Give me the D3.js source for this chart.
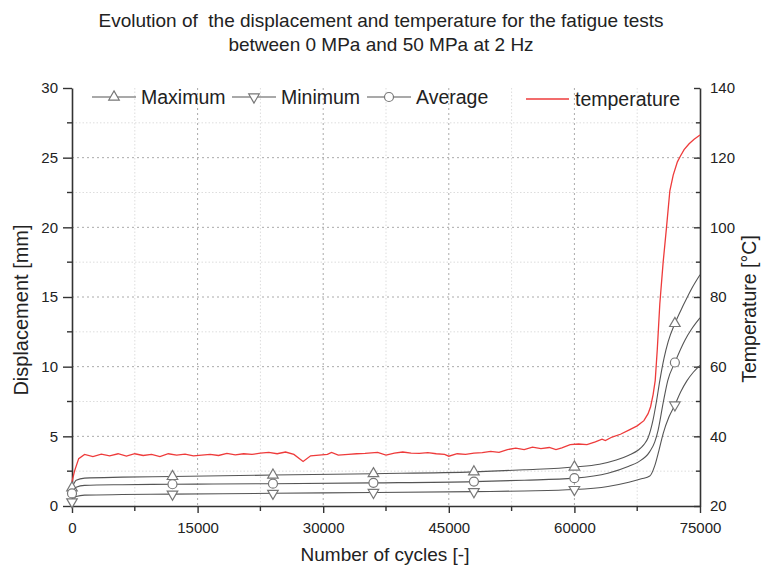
<!DOCTYPE html>
<html>
<head>
<meta charset="utf-8">
<script src="https://cdn.jsdelivr.net/npm/d3@7"></script>
<style>
  body { margin: 0; background: #fff; }
  text { font-family: "Liberation Sans", Arial, sans-serif; fill: #222; white-space: pre; }
</style>
</head>
<body>
<div id="chart"></div>
<script>
// displacement curves [cycles, mm]
let maxCycles = [0, 500, 1500, 6000, 12000, 24000, 36000, 48000, 54000, 60000, 63000, 65000, 66500, 67600, 68300, 68800, 69400, 69800, 70200, 70700, 71200, 72000, 73000, 74000, 75000];
let maxDisp = [1.3, 1.85, 2.0, 2.07, 2.12, 2.22, 2.32, 2.45, 2.6, 2.8, 3.0, 3.3, 3.65, 4.0, 4.4, 4.9, 6.2, 7.5, 9.0, 10.6, 11.8, 13.1, 14.4, 15.6, 16.6];

let avgCycles = [0, 500, 1500, 6000, 12000, 24000, 36000, 48000, 54000, 60000, 64000, 66500, 67600, 69000, 69600, 70000, 70600, 71150, 72000, 73200, 74000, 75000];
let avgDisp = [0.9, 1.35, 1.48, 1.53, 1.56, 1.6, 1.66, 1.75, 1.85, 2.0, 2.35, 2.85, 3.15, 3.9, 4.6, 5.45, 7.4, 9.0, 10.3, 11.9, 12.7, 13.5];

let minCycles = [0, 500, 1500, 6000, 12000, 24000, 36000, 48000, 54000, 60000, 64000, 66500, 68000, 69000, 69600, 70100, 70600, 71300, 72000, 72700, 73450, 74200, 75000];
let minDisp = [0.3, 0.68, 0.78, 0.82, 0.85, 0.91, 0.97, 1.03, 1.08, 1.18, 1.4, 1.7, 1.95, 2.15, 2.9, 4.0, 5.2, 6.4, 7.25, 8.2, 9.0, 9.6, 10.1];

// temperature [cycles, °C]
let tempCycles = [0, 300, 800, 1500, 2500, 3500, 4500, 5500, 6500, 7500, 8500, 9500, 10500, 11500, 12500, 13500, 14500, 15500, 16500, 17500, 18500, 19500, 20500, 21500, 22500, 23500, 24500, 25500, 26500, 27600, 28500, 29500, 30500, 31000, 31800, 33000, 34000, 35000, 36500, 37500, 38500, 39500, 40500, 41500, 42500, 43500, 44500, 45000, 46000, 47000, 48000, 49000, 50000, 51000, 52000, 53000, 54000, 55000, 56000, 57000, 57800, 58500, 59500, 60500, 61500, 62500, 63300, 63700, 64500, 65500, 66500, 67500, 68300, 68800, 69100, 69400, 69650, 69900, 70200, 70600, 71000, 71400, 71800, 72300, 72600, 73100, 73700, 74300, 75000];
let temp = [27, 30, 33.6, 34.8, 34.2, 34.9, 34.4, 35.0, 34.3, 35.0, 34.5, 34.8, 34.2, 35.0, 34.6, 34.9, 34.4, 34.6, 34.8, 34.5, 35.1, 34.7, 35.0, 34.8, 35.2, 35.4, 35.0, 35.5, 34.8, 32.8, 34.4, 34.6, 34.8, 35.4, 34.6, 34.8, 35.0, 35.1, 35.4, 34.6, 35.2, 35.5, 35.2, 35.1, 35.3, 35.0, 34.8, 34.3, 35.0, 34.8, 35.2, 35.3, 35.7, 35.4, 36.2, 36.6, 36.2, 36.9, 36.5, 36.8, 36.2, 36.7, 37.6, 37.8, 37.6, 38.4, 39.2, 38.8, 39.8, 40.6, 41.8, 43.0, 44.5, 46.5, 48.5, 52, 56, 65, 78, 90, 100, 110.5, 115, 118.8, 120.2, 122.3, 124, 125.3, 126.5];

let markerCycles = [0, 12000, 24000, 36000, 48000, 60000, 72000];

let xTicks = [0, 15000, 30000, 45000, 60000, 75000];
let yTicks = [0, 5, 10, 15, 20, 25, 30];
let tTicks = [20, 40, 60, 80, 100, 120, 140];

let width = 763, height = 568;
let m = { left: 72, right: 63, top: 88, bottom: 62 };
let pw = width - m.left - m.right;
let ph = height - m.top - m.bottom;

let svg = d3.select("#chart").append("svg").attr("width", width).attr("height", height);
let g = svg.append("g").attr("transform", "translate(" + m.left + "," + m.top + ")");

let x = d3.scaleLinear().domain([0, 75000]).range([0, pw]);
let y = d3.scaleLinear().domain([0, 30]).range([ph, 0]);
let yT = d3.scaleLinear().domain([20, 140]).range([ph, 0]);

// grid: minor first, then major
let minorX = d3.range(7500, 75000, 15000);
let minorY = d3.range(2.5, 30, 5);
g.selectAll(".gxm").data(minorX).enter().append("line")
  .attr("x1", d => x(d)).attr("x2", d => x(d)).attr("y1", 0).attr("y2", ph)
  .attr("stroke", "#ddd").attr("stroke-dasharray", "1.5,2");
g.selectAll(".gym").data(minorY).enter().append("line")
  .attr("y1", d => y(d)).attr("y2", d => y(d)).attr("x1", 0).attr("x2", pw)
  .attr("stroke", "#ddd").attr("stroke-dasharray", "1.5,2");
g.selectAll(".gx").data(xTicks.slice(1, -1)).enter().append("line")
  .attr("x1", d => x(d)).attr("x2", d => x(d)).attr("y1", 0).attr("y2", ph)
  .attr("stroke", "#aaa").attr("stroke-dasharray", "2,3");
g.selectAll(".gy").data(yTicks.slice(1, -1)).enter().append("line")
  .attr("y1", d => y(d)).attr("y2", d => y(d)).attr("x1", 0).attr("x2", pw)
  .attr("stroke", "#aaa").attr("stroke-dasharray", "2,3");

// axes
function styleAxis(sel) {
  sel.select(".domain").attr("stroke", "#333").attr("stroke-width", 1.6);
  sel.selectAll(".tick line").attr("stroke", "#333").attr("stroke-width", 1.4);
  sel.selectAll(".tick text").attr("font-size", 15).attr("fill", "#222")
    .attr("font-family", "Liberation Sans, Arial, sans-serif");
}
function minorTicks(sel, scale, vals, orient, len) {
  sel.selectAll(".mt").data(vals).enter().append("line")
    .attr("stroke", "#333").attr("stroke-width", 1.4)
    .each(function (d) {
      let s = d3.select(this);
      if (orient === "bottom") s.attr("x1", scale(d)).attr("x2", scale(d)).attr("y1", 0).attr("y2", len);
      else s.attr("y1", scale(d)).attr("y2", scale(d)).attr("x1", 0).attr("x2", len);
    });
}

let xAxis = g.append("g").attr("transform", "translate(0," + ph + ")")
  .call(d3.axisBottom(x).tickValues(xTicks).tickSize(7).tickPadding(9).tickSizeOuter(0).tickFormat(d3.format("d")));
styleAxis(xAxis);
minorTicks(xAxis, x, minorX, "bottom", 5);

let yAxis = g.append("g")
  .call(d3.axisLeft(y).tickValues(yTicks).tickSize(9).tickPadding(5).tickSizeOuter(0));
styleAxis(yAxis);
minorTicks(yAxis, y, minorY, "left", -5);

let tAxis = g.append("g").attr("transform", "translate(" + pw + ",0)")
  .call(d3.axisRight(yT).tickValues(tTicks).tickSize(-6).tickPadding(10).tickSizeOuter(0));
styleAxis(tAxis);
minorTicks(tAxis, yT, d3.range(30, 140, 20), "right", -4);

// lines
let dispLine = d3.line().x(d => x(d[0])).y(d => y(d[1])).curve(d3.curveMonotoneX);
let series = [
  { c: maxCycles, v: maxDisp, shape: "up" },
  { c: minCycles, v: minDisp, shape: "down" },
  { c: avgCycles, v: avgDisp, shape: "circle" }
];
let triUp = d3.symbol().type(d3.symbolTriangle).size(48);

function drawMarker(sel, shape, cx, cy) {
  if (shape === "circle") {
    sel.append("circle").attr("cx", cx).attr("cy", cy).attr("r", 4.5)
      .attr("fill", "#fff").attr("stroke", "#777").attr("stroke-width", 1.2);
  } else {
    sel.append("path").attr("d", triUp())
      .attr("transform", "translate(" + cx + "," + cy + ")" + (shape === "down" ? " rotate(180)" : ""))
      .attr("fill", "#fff").attr("stroke", "#777").attr("stroke-width", 1.2);
  }
}

series.forEach(function (s) {
  let pts = s.c.map((c, i) => [c, s.v[i]]);
  g.append("path").datum(pts).attr("d", dispLine)
    .attr("fill", "none").attr("stroke", "#555").attr("stroke-width", 1.1);
  let interp = d3.scaleLinear().domain(s.c).range(s.v);
  markerCycles.forEach(function (mc) {
    drawMarker(g, s.shape, x(mc), y(interp(mc)));
  });
});

let tPts = tempCycles.map((c, i) => [c, temp[i]]);
g.append("path").datum(tPts)
  .attr("d", d3.line().x(d => x(d[0])).y(d => yT(d[1])))
  .attr("fill", "none").attr("stroke", "#ee3b3b").attr("stroke-width", 1.3);

// legend
let legend = [
  { name: "Maximum", shape: "up", lx: 92 },
  { name: "Minimum", shape: "down", lx: 232 },
  { name: "Average", shape: "circle", lx: 367 }
];
legend.forEach(function (l) {
  svg.append("line").attr("x1", l.lx).attr("x2", l.lx + 44).attr("y1", 97).attr("y2", 97)
    .attr("stroke", "#555").attr("stroke-width", 1.1);
  drawMarker(svg, l.shape, l.lx + 22, 97);
  svg.append("text").attr("x", l.lx + 49).attr("y", 104).attr("font-size", 19.5).text(l.name);
});
svg.append("line").attr("x1", 526).attr("x2", 569).attr("y1", 99).attr("y2", 99)
  .attr("stroke", "#ee3b3b").attr("stroke-width", 1.5);
svg.append("text").attr("x", 575).attr("y", 106).attr("font-size", 19.5).text("temperature");

// titles
svg.append("text").attr("x", 381).attr("y", 27).attr("text-anchor", "middle").attr("font-size", 19)
  .text("Evolution of  the displacement and temperature for the fatigue tests");
svg.append("text").attr("x", 381).attr("y", 51).attr("text-anchor", "middle").attr("font-size", 19)
  .text("between 0 MPa and 50 MPa at 2 Hz");

svg.append("text").attr("x", 385).attr("y", 561).attr("text-anchor", "middle").attr("font-size", 19)
  .text("Number of cycles [-]");
svg.append("text").attr("transform", "translate(28,310) rotate(-90)").attr("text-anchor", "middle")
  .attr("font-size", 20).text("Displacement [mm]");
svg.append("text").attr("transform", "translate(756,309) rotate(-90)").attr("text-anchor", "middle")
  .attr("font-size", 19.5).text("Temperature [°C]");
</script>
</body>
</html>
